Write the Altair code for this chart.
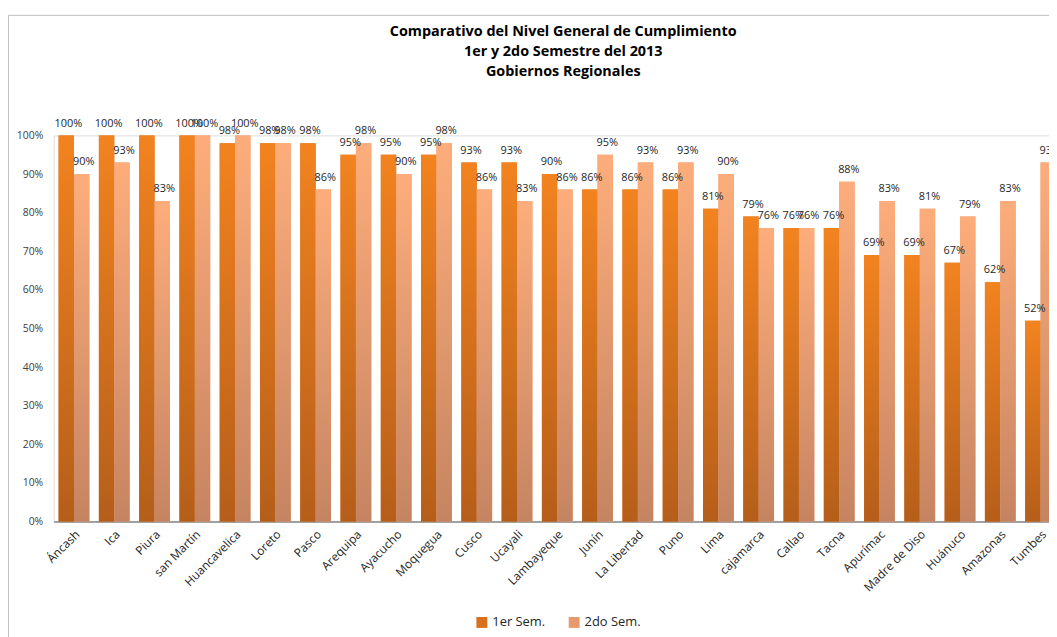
import altair as alt
import pandas as pd

regions = ["Áncash", "Ica", "Piura", "san Martín", "Huancavelica", "Loreto", "Pasco",
           "Arequipa", "Ayacucho", "Moquegua", "Cusco", "Ucayali", "Lambayeque", "Junín",
           "La Libertad", "Puno", "Lima", "cajamarca", "Callao", "Tacna", "Apurímac",
           "Madre de Diso", "Huánuco", "Amazonas", "Tumbes"]
sem1 = [100, 100, 100, 100, 98, 98, 98, 95, 95, 95, 93, 93, 90, 86, 86, 86, 81, 79, 76, 76, 69, 69, 67, 62, 52]
sem2 = [90, 93, 83, 100, 100, 98, 86, 98, 90, 98, 86, 83, 86, 95, 93, 93, 90, 76, 76, 88, 83, 81, 79, 83, 93]
series = ["1er Sem.", "2do Sem."]

rows = []
for r, a, b in zip(regions, sem1, sem2):
    rows.append({"region": r, "serie": series[0], "value": a / 100})
    rows.append({"region": r, "serie": series[1], "value": b / 100})
df = pd.DataFrame(rows)

FONT = "Open Sans"

x_enc = alt.X("region:N", sort=regions, title=None,
              scale=alt.Scale(range=[0, 1015], paddingInner=0.236, paddingOuter=0.123),
              axis=alt.Axis(labelAngle=-45, labelFontSize=12, labelColor="#262626",
                            labelFont=FONT, ticks=False, domainColor="#878787",
                            domainWidth=1.5, labelPadding=7, labelOffset=0, grid=False))
xo_enc = alt.XOffset("serie:N", scale=alt.Scale(domain=series, paddingInner=0, paddingOuter=0))
y_enc = alt.Y("value:Q", title=None,
              scale=alt.Scale(domain=[0, 1], nice=False),
              axis=alt.Axis(values=[i / 10 for i in range(11)], format=".0%",
                            labelFontSize=10.5, labelColor="#404040", labelFont=FONT,
                            domain=False, ticks=False, grid=False, labelPadding=11))

base = alt.Chart(df)

legend_bars = base.mark_bar().encode(
    x=x_enc, xOffset=xo_enc, y=y_enc,
    color=alt.Color("serie:N", scale=alt.Scale(domain=series, range=["#D8701F", "#E89A6C"]),
                    legend=alt.Legend(title=None, orient="none", direction="horizontal",
                                      legendX=425, legendY=484, symbolType="square",
                                      symbolSize=121, symbolStrokeWidth=0,
                                      labelFontSize=13, labelFont=FONT, labelColor="#262626",
                                      columnPadding=22, labelOffset=4, padding=0))
)

grad1 = alt.Gradient(gradient="linear", x1=0, x2=0, y1=0, y2=1,
                     stops=[alt.GradientStop(color="#F2831F", offset=0),
                            alt.GradientStop(color="#B55E1A", offset=1)])
grad2 = alt.Gradient(gradient="linear", x1=0, x2=0, y1=0, y2=1,
                     stops=[alt.GradientStop(color="#FDAD7B", offset=0),
                            alt.GradientStop(color="#C58461", offset=1)])

bars1 = base.transform_filter(alt.datum.serie == series[0]).mark_bar(color=grad1).encode(
    x=x_enc, xOffset=xo_enc, y=y_enc)
bars2 = base.transform_filter(alt.datum.serie == series[1]).mark_bar(color=grad2).encode(
    x=x_enc, xOffset=xo_enc, y=y_enc)

labels = base.mark_text(baseline="bottom", dy=-7, dx=2, fontSize=11, font=FONT,
                        color="#262626").encode(
    x=x_enc, xOffset=xo_enc, y=y_enc, text=alt.Text("value:Q", format=".0%"))

frame = alt.Chart(pd.DataFrame({"k": [0]})).mark_rect(
    fillOpacity=0, stroke="#BFBFBF", strokeWidth=1).encode(
    x=alt.value(-45.5), x2=alt.value(1100), y=alt.value(-121), y2=alt.value(700))

chart = alt.layer(frame, legend_bars, bars1, bars2, labels).properties(
    width=1003, height=389,
    title=alt.Title(["Comparativo del Nivel General de Cumplimiento",
                     "1er y 2do Semestre del 2013", "Gobiernos Regionales"],
                    font=FONT, fontSize=14.5, fontWeight="bold", color="#000000",
                    lineHeight=20, anchor="middle", frame="group", dx=12, offset=-65),
    autosize=alt.AutoSizeParams(type="none"),
    padding={"left": 46, "top": 126, "right": 0, "bottom": 114},
).configure_view(stroke=None).configure(background="white")

chart.save("out.html", embed_options={"renderer": "svg", "actions": False})
